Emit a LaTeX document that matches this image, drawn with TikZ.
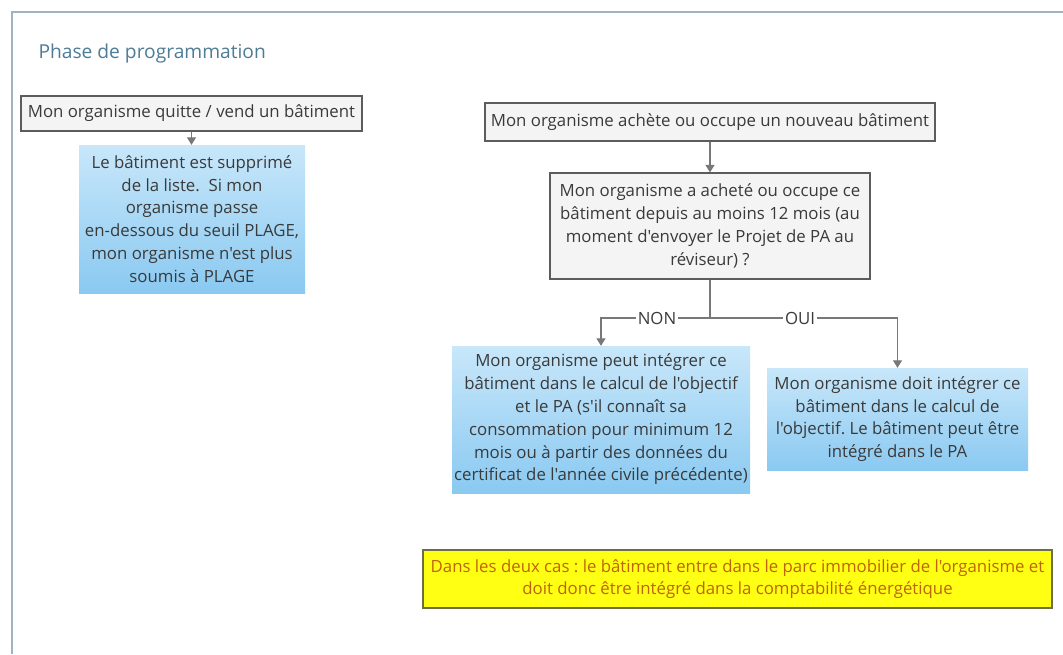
\documentclass[tikz,border=0pt]{standalone}
\usepackage{fontspec}
\setmainfont{Open Sans}[Ligatures=TeXOff]
\usetikzlibrary{arrows.meta}
\frenchspacing
\definecolor{framec}{RGB}{158,180,194}
\definecolor{titlec}{RGB}{78,124,150}
\definecolor{grayfill}{RGB}{244,244,244}
\definecolor{grayborder}{RGB}{92,92,92}
\definecolor{txt}{RGB}{58,58,58}
\definecolor{bluetop}{RGB}{200,231,250}
\definecolor{bluebot}{RGB}{138,201,241}
\definecolor{connc}{RGB}{120,120,120}
\definecolor{yelfill}{RGB}{255,255,20}
\definecolor{yelborder}{RGB}{110,110,70}
\definecolor{yeltxt}{RGB}{190,100,10}
\tikzset{
  basefont/.style={font=\fontsize{16.8}{22.8}\selectfont},
  graybox/.style={basefont, draw=grayborder, line width=1.2pt, fill=grayfill,
    text=txt, align=center, inner sep=0pt},
  bluebox/.style={basefont, top color=bluetop, bottom color=bluebot, draw=none,
    text=txt, align=center, inner sep=0pt},
  yelbox/.style={basefont, draw=yelborder, line width=1.2pt, fill=yelfill,
    text=yeltxt, align=center, inner sep=0pt},
  conn/.style={draw=connc, line width=1.3pt,
    -{Triangle[width=9pt,length=7.5pt]}},
  connline/.style={draw=connc, line width=1.3pt},
  lbl/.style={basefont, fill=white, text=txt, inner xsep=2pt, inner ysep=1pt}
}
\begin{document}
\begin{tikzpicture}[x=1pt,y=-1pt]
\useasboundingbox (0,0) rectangle (1063,654);
\fill[white] (0,0) rectangle (1063,654);
\draw[framec, line width=1.6pt] (1063,12) -- (12,12) -- (12,654);

\node[anchor=west, text=titlec, font=\fontsize{19.2}{22}\selectfont] (title) at (35,54) {Phase de programmation};

\node[graybox, minimum width=341pt, minimum height=35pt] (q) at (191.5,113.5)
  {Mon organisme quitte / vend un bâtiment};
\node[bluebox, minimum width=226pt, minimum height=148pt] (s) at (192,219)
  {Le bâtiment est supprimé\\de la liste.~ Si mon\\organisme passe\\en-dessous du seuil PLAGE,\\mon organisme n'est plus\\soumis à PLAGE};

\node[graybox, minimum width=450pt, minimum height=38pt] (a) at (710,122)
  {Mon organisme achète ou occupe un nouveau bâtiment};
\node[graybox, minimum width=320pt, minimum height=106pt] (d) at (710,226)
  {Mon organisme a acheté ou occupe ce\\bâtiment depuis au moins 12 mois (au\\moment d'envoyer le Projet de PA au\\réviseur) ?};

\node[bluebox, minimum width=298pt, minimum height=147pt] (n) at (601,419.5)
  {Mon organisme peut intégrer ce\\bâtiment dans le calcul de l'objectif\\et le PA (s'il connaît sa\\consommation pour minimum 12\\mois ou à partir des données du\\certificat de l'année civile précédente)};
\node[bluebox, minimum width=261pt, minimum height=102pt] (o) at (897.5,419)
  {Mon organisme doit intégrer ce\\bâtiment dans le calcul de\\l'objectif. Le bâtiment peut être\\intégré dans le PA};

\node[yelbox, minimum width=629pt, minimum height=58pt] (y) at (737.5,579)
  {Dans les deux cas : le bâtiment entre dans le parc immobilier de l'organisme et\\doit donc être intégré dans la comptabilité énergétique};

\coordinate (j) at (710,318);
\draw[conn] (q.south) -- (q.south |- s.north);
\draw[conn] (a.south) -- (d.north);
\draw[connline] (d.south) -- (j);
\draw[conn] (j) -| (n.north);
\draw[conn] (j) -| (o.north);
\node[lbl] (non) at (657,318) {NON};
\node[lbl] (oui) at (800,318) {OUI};
\end{tikzpicture}
\end{document}
